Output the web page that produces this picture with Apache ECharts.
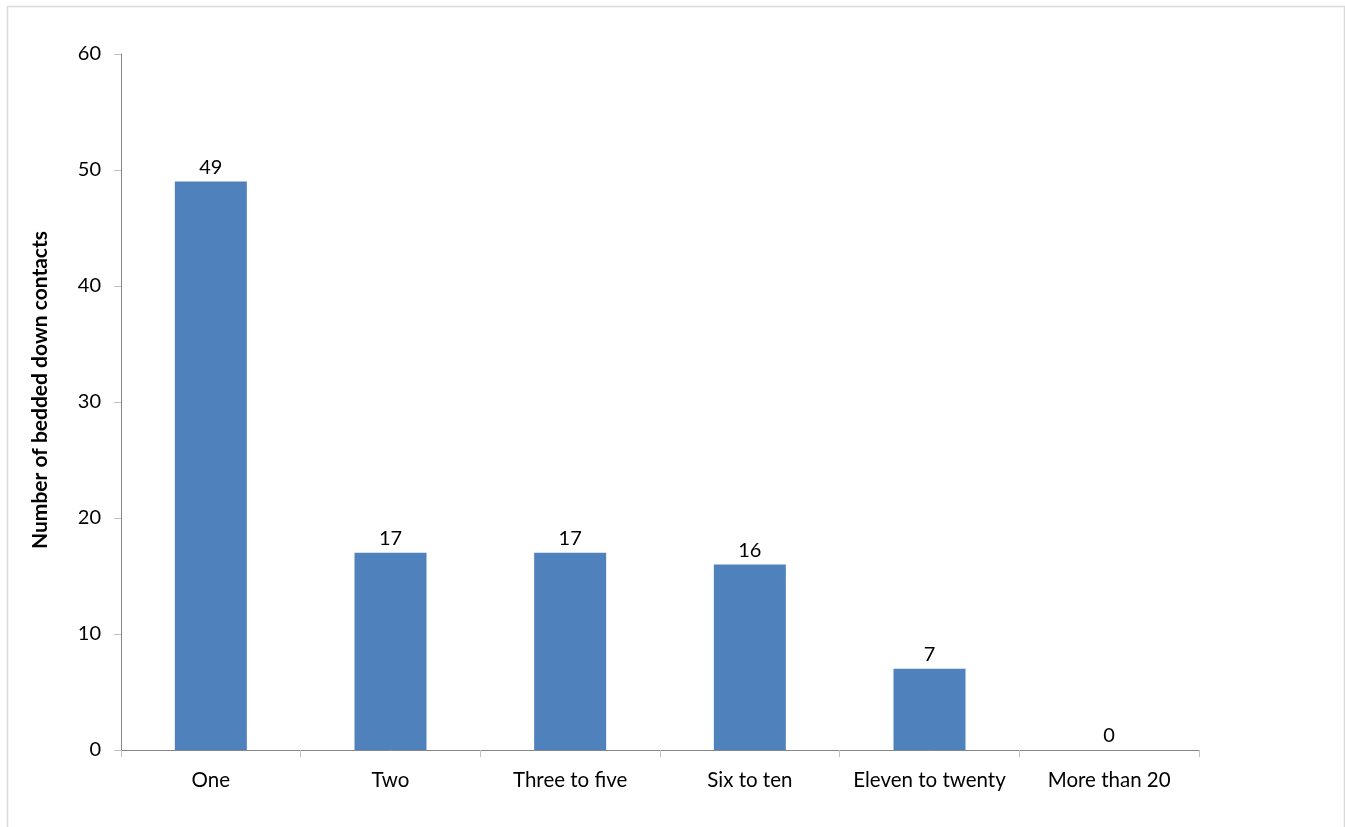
<!DOCTYPE html>
<html><head><meta charset="utf-8">
<script src="https://cdn.jsdelivr.net/npm/echarts@6/dist/echarts.min.js"></script>
<style>html,body{margin:0;padding:0;background:#fff;}#c{width:1345px;height:827px;}</style>
</head><body><div id="c"></div>
<script>
var categories = ["One", "Two", "Three to five", "Six to ten", "Eleven to twenty", "More than 20"];
var values = [49, 17, 17, 16, 7, 0];
var yTicks = [0, 10, 20, 30, 40, 50, 60];
var yAxisTitle = "Number of bedded down contacts";

var chart = echarts.init(document.getElementById('c'));
var font = 'Lato, "Liberation Sans", sans-serif';
chart.setOption({
  animation: false,
  textStyle: {fontFamily: font},
  graphic: [{type: 'rect', shape: {x: 7.5, y: 6.5, width: 1337, height: 840}, style: {fill: 'none', stroke: '#d9d9d9', lineWidth: 1.5}, silent: true}],
  grid: {left: 121, top: 54, right: 146, bottom: 77},
  xAxis: {
    type: 'category', data: categories,
    axisLine: {lineStyle: {color: '#868686', width: 1}},
    axisTick: {show: true, length: 7, lineStyle: {color: '#bfbfbf'}},
    axisLabel: {color: '#000', fontSize: 20.5, margin: 20, interval: 0, fontFamily: font}
  },
  yAxis: {
    type: 'value', min: yTicks[0], max: yTicks[yTicks.length - 1], interval: 10,
    name: yAxisTitle, nameLocation: 'middle', nameGap: 70, nameRotate: 90,
    nameTextStyle: {color: '#000', fontSize: 21, fontWeight: 'bold', fontFamily: font, padding: [0, 0, 0, 24]},
    axisLine: {show: true, lineStyle: {color: '#868686', width: 1}},
    axisTick: {show: true, length: 7, lineStyle: {color: '#bfbfbf'}},
    splitLine: {show: false},
    axisLabel: {color: '#000', fontSize: 20, margin: 20, fontFamily: font}
  },
  series: [{
    type: 'bar', data: values, barWidth: 72,
    itemStyle: {color: '#4F81BD'},
    label: {show: true, position: 'top', distance: 4, color: '#000', fontSize: 20, fontFamily: font}
  }]
});
</script></body></html>
